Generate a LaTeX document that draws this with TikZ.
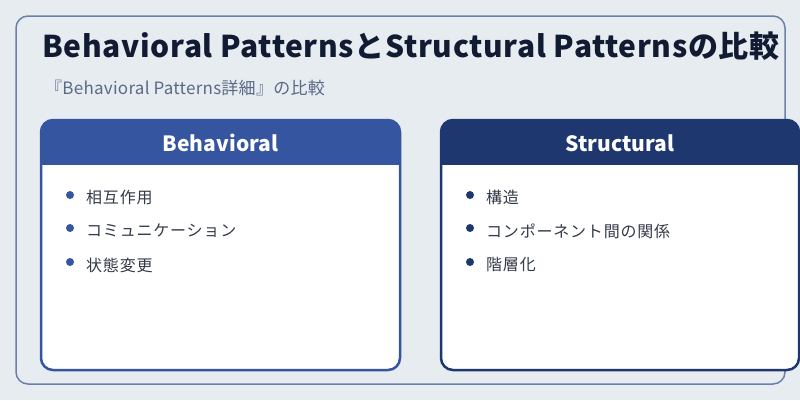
\documentclass[tikz,border=0pt]{standalone}
\usepackage{fontspec}
\setmainfont{Noto Sans CJK JP}
\newfontfamily\jp{Noto Sans CJK JP}
\newfontfamily\jptitle[LetterSpace=2.2]{Noto Sans CJK JP}
\newfontfamily\jpsub[LetterSpace=1.5]{Noto Sans CJK JP}
\newfontfamily\jpitem[LetterSpace=5]{Noto Sans CJK JP}
\definecolor{bg}{HTML}{E7ECF1}
\definecolor{frame}{HTML}{6A80AA}
\definecolor{titlec}{HTML}{111C33}
\definecolor{subc}{HTML}{5A6A86}
\definecolor{behc}{HTML}{3555A0}
\definecolor{strc}{HTML}{1F376F}
\definecolor{itemc}{HTML}{333A48}
\begin{document}
\begin{tikzpicture}[x=1pt,y=-1pt,
  panel/.style={draw=#1,line width=2.5pt,fill=white,rounded corners=12pt},
  headtext/.style={text=white,font=\jp\bfseries\fontsize{21}{25}\selectfont,anchor=center},
  itemtext/.style={text=itemc,font=\jpitem\fontsize{16}{19}\selectfont,anchor=west,inner sep=0pt},
  dot/.style={circle,fill=#1,inner sep=0pt,minimum size=8pt}]
\useasboundingbox (0,0) rectangle (800,400);
\fill[bg] (0,0) rectangle (800,400);
\draw[frame,line width=1.5pt,fill=bg,rounded corners=12pt] (16,16) rectangle (785,384);
\node[anchor=base west,inner sep=0pt,text=titlec,font=\jptitle\bfseries\fontsize{30}{35}\selectfont] (title) at (42,57) {Behavioral PatternsとStructural Patternsの比較};
\node[anchor=west,inner sep=0pt,text=subc,font=\jpsub\fontsize{17}{20}\selectfont] (sub) at (45,88) {『Behavioral Patterns詳細』の比較};
% left panel
\draw[panel=behc] (41,120) rectangle (400,370);
\begin{scope}
\clip[rounded corners=12pt] (41,120) rectangle (400,370);
\fill[behc] (41,120) rectangle (400,165);
\end{scope}
\node[headtext] (bh) at (220.5,143) {Behavioral};
\node[dot=behc] (b1) at (70,195) {};
\node[dot=behc] (b2) at (70,228) {};
\node[dot=behc] (b3) at (70,262) {};
\node[itemtext] (bt1) at (86,197) {相互作用};
\node[itemtext] (bt2) at (86,231) {コミュニケーション};
\node[itemtext] (bt3) at (86,265) {状態変更};
% right panel
\draw[panel=strc] (441,120) rectangle (799,370);
\begin{scope}
\clip[rounded corners=12pt] (441,120) rectangle (799,370);
\fill[strc] (441,120) rectangle (799,165);
\end{scope}
\node[headtext] (sh) at (620,143) {Structural};
\node[dot=strc] (s1) at (470,195) {};
\node[dot=strc] (s2) at (470,228) {};
\node[dot=strc] (s3) at (470,262) {};
\node[itemtext] (st1) at (486,197) {構造};
\node[itemtext] (st2) at (486,231) {コンポーネント間の関係};
\node[itemtext] (st3) at (486,265) {階層化};
\end{tikzpicture}
\end{document}
